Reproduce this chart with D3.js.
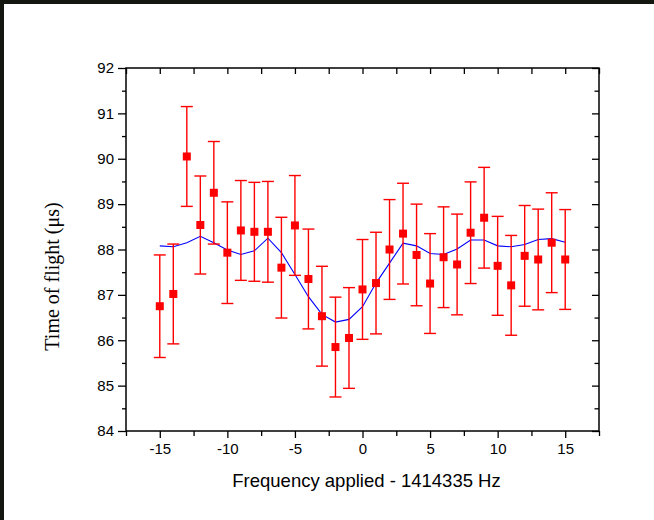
<!DOCTYPE html>
<html>
<head>
<meta charset="utf-8">
<script src="https://cdn.jsdelivr.net/npm/d3@7"></script>
<style>
  html, body { margin: 0; padding: 0; background: #14170f; }
  svg { display: block; }
</style>
</head>
<body>
<div id="chart"></div>
<script>
// Frequency offsets (Hz) and measured time of flight (µs)
const offsets = d3.range(-15, 16);
const tof = [86.75, 87.02, 90.05, 88.54, 89.25, 87.93, 88.42, 88.39, 88.39, 87.60,
             88.53, 87.35, 86.53, 85.85, 86.05, 87.12, 87.26, 88.00, 88.35, 87.88,
             87.25, 87.83, 87.67, 88.37, 88.70, 87.64, 87.21, 87.86, 87.78, 88.15, 87.78];
const tofErr = [1.13, 1.10, 1.10, 1.08, 1.13, 1.12, 1.10, 1.09, 1.11, 1.11,
                1.10, 1.10, 1.10, 1.10, 1.11, 1.10, 1.12, 1.10, 1.11, 1.12,
                1.10, 1.11, 1.11, 1.12, 1.11, 1.09, 1.10, 1.11, 1.11, 1.10, 1.10];
// smoothed fit curve
const fit = [88.08, 88.06, 88.15, 88.29, 88.15, 87.99, 87.89, 87.97, 88.25, 87.93,
             87.45, 86.96, 86.57, 86.40, 86.46, 86.74, 87.26, 87.70, 88.14, 88.08,
             87.91, 87.89, 88.01, 88.21, 88.21, 88.08, 88.06, 88.11, 88.22, 88.24, 88.16];

const xMajor = [-15, -10, -5, 0, 5, 10, 15];
const xMinor = [-17.5, -12.5, -7.5, -2.5, 2.5, 7.5, 12.5, 17.5];
const yMajor = [84, 85, 86, 87, 88, 89, 90, 91, 92];
const yMinor = [84.5, 85.5, 86.5, 87.5, 88.5, 89.5, 90.5, 91.5];

const W = 654, H = 520;
const margin = { top: 68, right: 55, bottom: 89, left: 126 };
const width = W - margin.left - margin.right;
const height = H - margin.top - margin.bottom;

const svgRoot = d3.select("#chart").append("svg")
    .attr("width", W)
    .attr("height", H);

// white page with a dark strip on the top and left edge
svgRoot.append("rect")
    .attr("x", 4).attr("y", 4)
    .attr("width", W - 4).attr("height", H - 4)
    .attr("fill", "#fff");

const svg = svgRoot.append("g")
    .attr("transform", `translate(${margin.left},${margin.top})`);

const x = d3.scaleLinear().domain([-17.5, 17.5]).range([0, width]);
const y = d3.scaleLinear().domain([84, 92]).range([height, 0]);

const tickFont = "'Liberation Sans', Arial, sans-serif";
const plain = d => String(d); // hyphen minus, like the original

function styleAxis(g) {
    g.select(".domain").remove();
    g.selectAll(".tick line").attr("stroke", "#000").attr("stroke-width", 1.3);
    g.selectAll("text").attr("font-family", tickFont).attr("font-size", 15).attr("fill", "#000");
}

// bottom axis: outward ticks with labels
svg.append("g")
    .attr("transform", `translate(0,${height})`)
    .call(d3.axisBottom(x).tickValues(xMajor).tickSize(7).tickPadding(5).tickFormat(plain))
    .call(styleAxis);
svg.append("g")
    .attr("transform", `translate(0,${height})`)
    .call(d3.axisBottom(x).tickValues(xMinor).tickSize(5).tickFormat(""))
    .call(styleAxis);

// left axis: outward ticks with labels
svg.append("g")
    .call(d3.axisLeft(y).tickValues(yMajor).tickSize(8).tickPadding(4).tickFormat(plain))
    .call(styleAxis);
svg.append("g")
    .call(d3.axisLeft(y).tickValues(yMinor).tickSize(4).tickFormat(""))
    .call(styleAxis);

// top axis: inward ticks
svg.append("g")
    .call(d3.axisBottom(x).tickValues(xMajor.concat(xMinor)).tickSize(6).tickFormat(""))
    .call(styleAxis);

// right axis: inward ticks
svg.append("g")
    .attr("transform", `translate(${width},0)`)
    .call(d3.axisLeft(y).tickValues(yMajor).tickSize(7).tickFormat(""))
    .call(styleAxis);
svg.append("g")
    .attr("transform", `translate(${width},0)`)
    .call(d3.axisLeft(y).tickValues(yMinor).tickSize(4.5).tickFormat(""))
    .call(styleAxis);

// frame
svg.append("rect")
    .attr("x", 0).attr("y", 0)
    .attr("width", width).attr("height", height)
    .attr("fill", "none")
    .attr("stroke", "#000")
    .attr("stroke-width", 1.5);

// fitted curve
svg.append("path")
    .datum(offsets.map((d, i) => [d, fit[i]]))
    .attr("fill", "none")
    .attr("stroke", "#0000ff")
    .attr("stroke-width", 1.1)
    .attr("d", d3.line().x(d => x(d[0])).y(d => y(d[1])));

// error bars
const capHalf = 6;
const bars = svg.append("g")
    .attr("stroke", "#ff0000")
    .attr("stroke-width", 1.4);
offsets.forEach((d, i) => {
    const cx = x(d);
    const hi = y(tof[i] + tofErr[i]);
    const lo = y(tof[i] - tofErr[i]);
    bars.append("line").attr("x1", cx).attr("x2", cx).attr("y1", hi).attr("y2", lo);
    bars.append("line").attr("x1", cx - capHalf).attr("x2", cx + capHalf).attr("y1", hi).attr("y2", hi);
    bars.append("line").attr("x1", cx - capHalf).attr("x2", cx + capHalf).attr("y1", lo).attr("y2", lo);
});

// square markers
const sq = 8;
svg.append("g")
    .selectAll("rect")
    .data(offsets)
    .join("rect")
    .attr("x", d => x(d) - sq / 2)
    .attr("y", (d, i) => y(tof[i]) - sq / 2)
    .attr("width", sq)
    .attr("height", sq)
    .attr("fill", "#ff0000");

// axis titles
svg.append("text")
    .attr("x", width / 2 + 4)
    .attr("y", height + 56)
    .attr("text-anchor", "middle")
    .attr("font-family", tickFont)
    .attr("font-size", 18.5)
    .text("Frequency applied - 1414335 Hz");

svg.append("text")
    .attr("transform", "rotate(-90)")
    .attr("x", -height / 2 - 27)
    .attr("y", -67)
    .attr("text-anchor", "middle")
    .attr("font-family", "'Liberation Serif', 'Times New Roman', serif")
    .attr("font-size", 20)
    .text("Time of flight (\u03bcs)");
</script>
</body>
</html>
